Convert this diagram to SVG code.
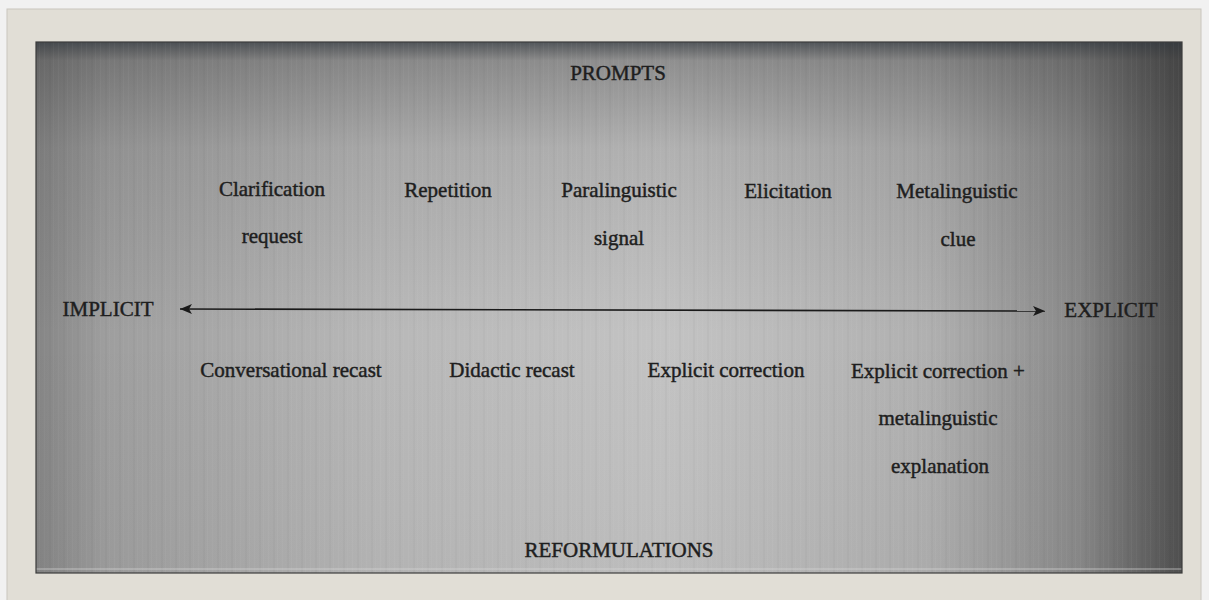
<svg xmlns="http://www.w3.org/2000/svg" width="1209" height="600" viewBox="0 0 1209 600">
  <defs>
    <linearGradient id="hGrad" x1="0" y1="0" x2="1" y2="0">
      <stop offset="0" stop-color="#858585"/>
      <stop offset="0.06" stop-color="#9e9e9e"/>
      <stop offset="0.3" stop-color="#b8b8b8"/>
      <stop offset="0.55" stop-color="#c3c3c3"/>
      <stop offset="0.78" stop-color="#b0b0b0"/>
      <stop offset="0.91" stop-color="#8a8a8a"/>
      <stop offset="1" stop-color="#505050"/>
    </linearGradient>
    <linearGradient id="vShade" x1="0" y1="0" x2="0" y2="1">
      <stop offset="0" stop-color="#2e343a" stop-opacity="0.75"/>
      <stop offset="0.035" stop-color="#303030" stop-opacity="0.35"/>
      <stop offset="0.2" stop-color="#303030" stop-opacity="0.12"/>
      <stop offset="0.55" stop-color="#303030" stop-opacity="0"/>
      <stop offset="1" stop-color="#303030" stop-opacity="0.04"/>
    </linearGradient>
    <pattern id="streaks" width="14" height="600" patternUnits="userSpaceOnUse">
      <rect x="2" y="0" width="1" height="600" fill="#ffffff" opacity="0.035"/>
      <rect x="7" y="0" width="2" height="600" fill="#000000" opacity="0.025"/>
      <rect x="11" y="0" width="1" height="600" fill="#ffffff" opacity="0.03"/>
    </pattern>
    <marker id="arrowEnd" viewBox="0 0 12 10" refX="12" refY="5" markerWidth="12" markerHeight="10" markerUnits="userSpaceOnUse" orient="auto">
      <path d="M0,0 L12,5 L0,10 L3,5 Z" fill="#1a1a1a"/>
    </marker>
    <marker id="arrowStart" viewBox="0 0 12 10" refX="0" refY="5" markerWidth="12" markerHeight="10" markerUnits="userSpaceOnUse" orient="auto">
      <path d="M12,0 L0,5 L12,10 L9,5 Z" fill="#1a1a1a"/>
    </marker>
  </defs>
  <style>
    .lbl { font-family: "Liberation Serif", "Times New Roman", serif; font-size: 21px; fill: #1e1e1e; stroke: #1e1e1e; stroke-width: 0.45; text-anchor: middle; }
    .conn { stroke: #1a1a1a; stroke-width: 1.6; fill: none; }
  </style>

  <!-- page background and frame -->
  <rect x="0" y="0" width="1209" height="600" fill="#f1f1f1"/>
  <rect x="7" y="9" width="1194" height="595" fill="#e1ded6" stroke="#c9c6be" stroke-width="1"/>

  <!-- panel -->
  <rect x="36" y="42" width="1146" height="531" fill="url(#hGrad)"/>
  <rect x="36" y="42" width="1146" height="531" fill="url(#vShade)"/>
  <rect x="36" y="42" width="1146" height="531" fill="url(#streaks)"/>
  <rect x="36" y="568" width="1146" height="2" fill="#d8d8d8" opacity="0.35"/>
  <rect x="36" y="42" width="1146" height="531" fill="none" stroke="#3c3c3c" stroke-width="1.2"/>

  <!-- connectors -->
  <g id="connectors">
    <line class="conn" x1="180" y1="309" x2="1045" y2="311" marker-start="url(#arrowStart)" marker-end="url(#arrowEnd)"/>
  </g>

  <!-- nodes -->
  <g id="prompts"><text class="lbl" x="618" y="80">PROMPTS</text></g>
  <g id="clarification-request">
    <text class="lbl" x="272" y="196">Clarification</text>
    <text class="lbl" x="272" y="243">request</text>
  </g>
  <g id="repetition"><text class="lbl" x="448" y="197">Repetition</text></g>
  <g id="paralinguistic-signal">
    <text class="lbl" x="619" y="197">Paralinguistic</text>
    <text class="lbl" x="619" y="245">signal</text>
  </g>
  <g id="elicitation"><text class="lbl" x="788" y="198">Elicitation</text></g>
  <g id="metalinguistic-clue">
    <text class="lbl" x="957" y="198">Metalinguistic</text>
    <text class="lbl" x="958" y="246">clue</text>
  </g>
  <g id="implicit"><text class="lbl" x="108" y="316">IMPLICIT</text></g>
  <g id="explicit"><text class="lbl" x="1111" y="317">EXPLICIT</text></g>
  <g id="conversational-recast"><text class="lbl" x="291" y="377">Conversational recast</text></g>
  <g id="didactic-recast"><text class="lbl" x="512" y="377">Didactic recast</text></g>
  <g id="explicit-correction"><text class="lbl" x="726" y="377">Explicit correction</text></g>
  <g id="explicit-correction-metalinguistic">
    <text class="lbl" x="938" y="378">Explicit correction +</text>
    <text class="lbl" x="938" y="425">metalinguistic</text>
    <text class="lbl" x="940" y="473">explanation</text>
  </g>
  <g id="reformulations"><text class="lbl" x="619" y="557">REFORMULATIONS</text></g>
</svg>
